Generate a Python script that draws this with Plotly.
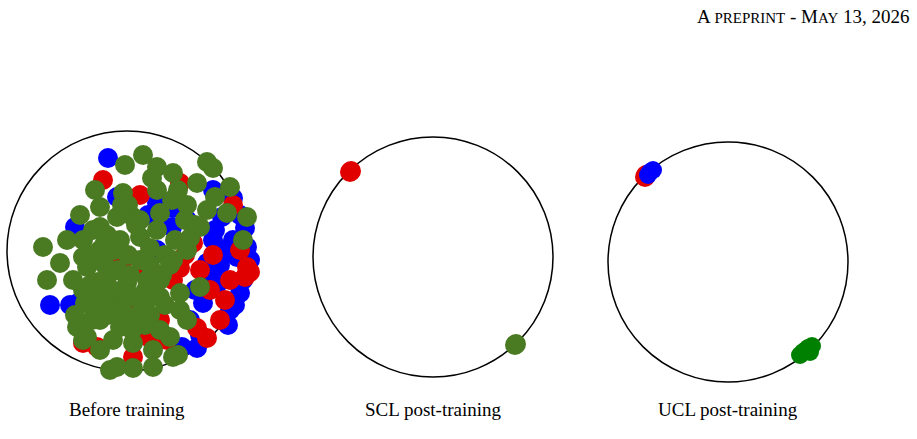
import plotly.graph_objects as go

# embedding readings in page pixel units (x right, y down)
panel1_blue_x = [108, 213, 233, 157, 173, 187, 222, 172, 75, 148, 233, 213, 247, 207, 220, 237, 218, 240, 203, 230, 190, 50, 70, 78, 182, 197, 117, 243, 157, 133, 245, 228, 250, 225, 210, 235, 195, 215, 240, 200]
panel1_blue_y = [158, 190, 198, 203, 208, 220, 217, 227, 227, 215, 240, 240, 247, 263, 265, 257, 283, 293, 303, 310, 320, 305, 305, 303, 347, 348, 197, 280, 250, 327, 228, 325, 260, 250, 275, 305, 290, 230, 215, 335]
panel1_red_x = [103, 180, 140, 143, 137, 110, 193, 213, 180, 245, 230, 247, 160, 207, 83, 97, 133, 167, 197, 123, 148, 220, 173, 233, 250, 240, 200, 185, 225, 210]
panel1_red_y = [180, 183, 195, 265, 302, 297, 243, 255, 268, 277, 280, 267, 320, 338, 343, 347, 357, 340, 328, 260, 337, 320, 280, 205, 272, 250, 270, 255, 300, 290]
panel1_green_x = [143, 125, 207, 213, 157, 173, 152, 123, 187, 80, 100, 43, 60, 47, 83, 100, 117, 133, 100, 87, 110, 83, 100, 127, 147, 120, 140, 157, 200, 207, 227, 247, 243, 180, 160, 200, 100, 120, 87, 83, 113, 133, 153, 170, 117, 133, 153, 110, 173, 77, 187, 157, 197, 230, 83, 187, 173, 140, 73, 67, 140,
                  93, 107, 115, 128, 90, 105, 118, 130, 95, 112, 125, 138, 150, 165, 162, 145, 92, 108, 122, 135, 150, 165, 180, 160, 172, 185, 195, 215, 140, 128, 178, 190,
                  85, 98, 112, 75, 90, 104, 128, 146, 160, 170, 150, 136, 122, 160, 175, 145, 132, 178, 100, 95]
panel1_green_y = [155, 165, 162, 168, 167, 173, 178, 193, 205, 215, 207, 247, 263, 280, 240, 227, 217, 217, 250, 267, 273, 290, 297, 283, 280, 240, 237, 230, 227, 210, 213, 217, 240, 293, 297, 287, 320, 327, 337, 340, 340, 343, 350, 337, 367, 368, 367, 370, 357, 327, 320, 190, 183, 187, 257, 250, 260, 313, 280, 240, 260,
                  230, 235, 250, 255, 285, 265, 270, 275, 310, 305, 300, 297, 265, 255, 275, 305, 320, 315, 310, 320, 315, 305, 310, 330, 200, 220, 225, 197, 220, 205, 190, 238,
                  303, 282, 290, 315, 255, 245, 295, 290, 280, 265, 248, 225, 205, 213, 240, 325, 330, 355, 350, 190]
panel2_red_x = [350, 351]
panel2_red_y = [172, 171]
panel2_green_x = [516, 515]
panel2_green_y = [344, 345]
panel3_red_x = [645, 646]
panel3_red_y = [177, 175]
panel3_blue_x = [650, 653, 648]
panel3_blue_y = [172, 170, 175]
panel3_green_x = [803, 808, 812, 800, 806, 810]
panel3_green_y = [352, 348, 346, 355, 350, 352]

captions = ["Before training", "SCL post-training", "UCL post-training"]
centers = [(127, 251), (433, 257), (728, 262)]
radius = 120

RED, BLUE, OLIVE, GREEN = "#e00000", "#0000ff", "#4a7a22", "#008000"

fig = go.Figure()

def dots(x, y, color, size=20):
    fig.add_trace(go.Scatter(x=x, y=y, mode="markers",
                             marker=dict(color=color, size=size, line=dict(width=0)),
                             showlegend=False, hoverinfo="skip"))

for cx, cy in centers:
    fig.add_shape(type="circle", x0=cx - radius, x1=cx + radius, y0=cy - radius, y1=cy + radius,
                  line=dict(color="black", width=1.5), layer="below")

dots(panel1_blue_x, panel1_blue_y, BLUE)
dots(panel1_red_x, panel1_red_y, RED)
dots(panel1_green_x, panel1_green_y, OLIVE)
dots(panel2_red_x, panel2_red_y, RED)
dots(panel2_green_x, panel2_green_y, OLIVE)
dots(panel3_red_x, panel3_red_y, RED)
dots(panel3_blue_x, panel3_blue_y, BLUE, 18)
dots(panel3_green_x, panel3_green_y, GREEN, 18)

serif = "Liberation Serif"
for (cx, cy), cap in zip(centers, captions):
    fig.add_annotation(x=cx, y=409, text=cap, showarrow=False,
                       font=dict(family=serif, size=19, color="black"))

fig.add_annotation(x=912, y=16, xanchor="right", showarrow=False,
                   text="A <span style='font-size:15px'>PREPRINT</span> - M<span style='font-size:15px'>AY</span> 13, 2026",
                   font=dict(family=serif, size=19, color="black"))
fig.add_annotation(x=522, y=441, showarrow=False, text="2",
                   font=dict(family=serif, size=14, color="black"))

fig.update_xaxes(range=[0, 917], visible=False)
fig.update_yaxes(range=[439, 0], visible=False)
fig.update_layout(width=917, height=439, margin=dict(l=0, r=0, t=0, b=0),
                  plot_bgcolor="white", paper_bgcolor="white")

fig.write_html("out.html", config={"displayModeBar": False},
               post_script="document.body.style.margin='0';")
